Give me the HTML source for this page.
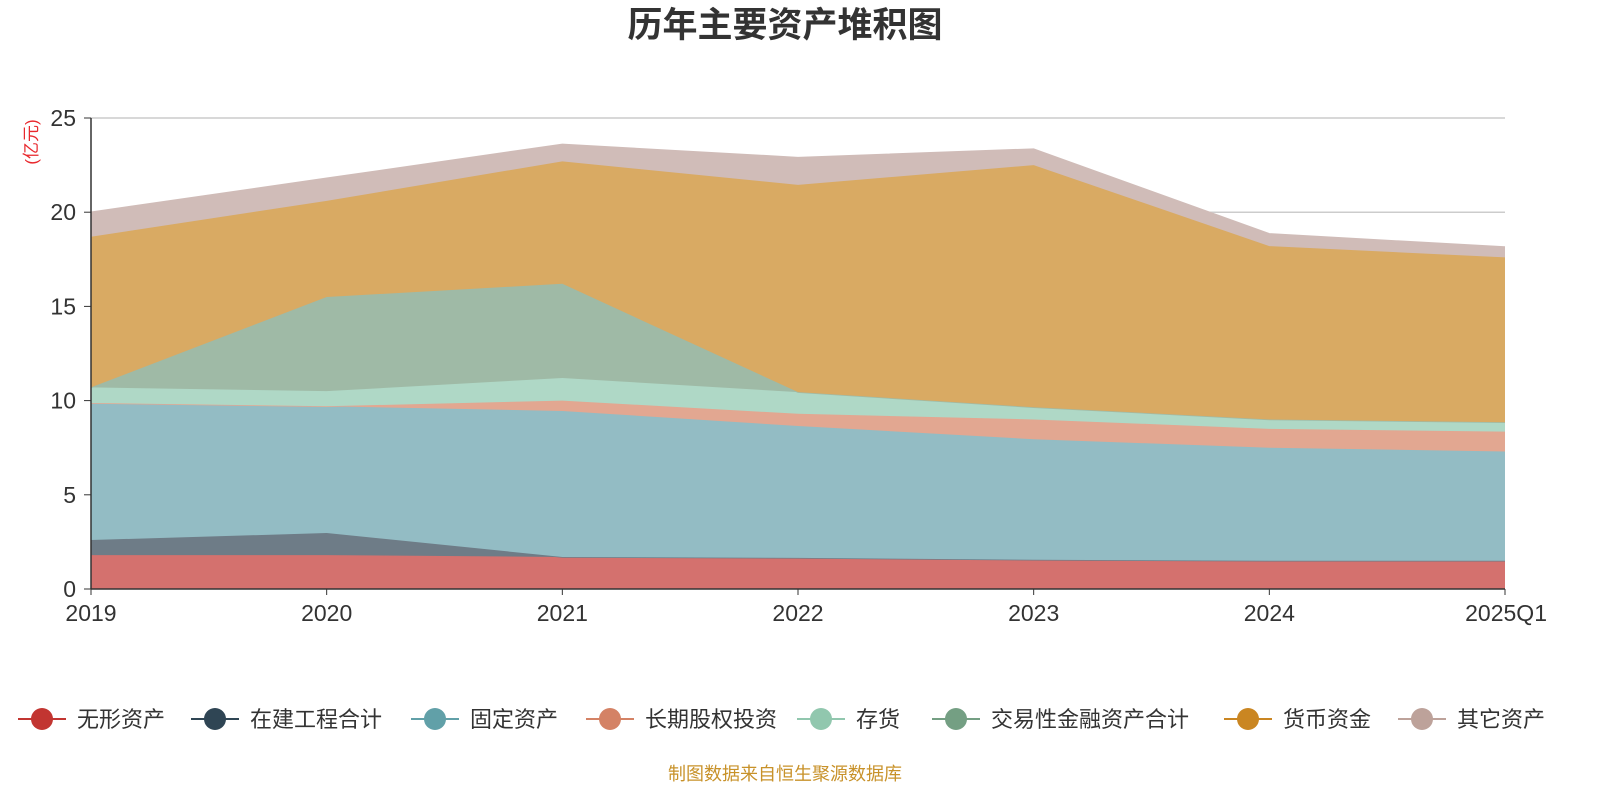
<!DOCTYPE html>
<html><head><meta charset="utf-8"><style>
body{margin:0;background:#fff;width:1600px;height:800px;overflow:hidden;font-family:"Liberation Sans","Noto Sans CJK SC",sans-serif}
</style></head><body>
<svg id="chart" width="1600" height="800" xmlns="http://www.w3.org/2000/svg" font-family="Liberation Sans, Noto Sans CJK SC, sans-serif">
<text x="785" y="37" text-anchor="middle" font-size="35" font-weight="bold" fill="#333">历年主要资产堆积图</text>
<text transform="translate(37,142) rotate(-90)" text-anchor="middle" font-size="17" fill="#e8282d">(亿元)</text>
<g id="grid"></g><g id="areas"></g><g id="axes"></g><g id="legend"></g>
<text x="785" y="780" text-anchor="middle" font-size="18" fill="#c8922a">制图数据来自恒生聚源数据库</text>
</svg>
<script>
const categories=["2019","2020","2021","2022","2023","2024","2025Q1"];
const seriesNames=["无形资产","在建工程合计","固定资产","长期股权投资","存货","交易性金融资产合计","货币资金","其它资产"];
const s0=[1.8,1.8,1.7,1.65,1.55,1.5,1.5];
const s1=[0.8,1.17,0,0,0,0,0];
const s2=[7.27,6.73,7.75,7.0,6.4,6.0,5.8];
const s3=[0,0,0.55,0.65,1.05,1.0,1.05];
const s4=[0.83,0.8,1.2,1.15,0.65,0.5,0.5];
const s5=[0,5.0,5.0,0,0,0,0];
const s6=[8.0,5.1,6.5,11.0,12.85,9.2,8.75];
const s7=[1.3,1.2,0.9,1.45,0.85,0.65,0.55];
const yTicks=[0,5,10,15,20,25];
const series=[s0,s1,s2,s3,s4,s5,s6,s7];
const fills=["#d4716e","#6e7c87","#93bcc4","#e2a791","#afd8c6","#9fbaa6","#d9aa63","#d0bcb8"];
const lineC=["#c23531","#2f4554","#61a0a8","#d48265","#91c7ae","#749f83","#ca8622","#bda29a"];
const X0=91,X1=1505,Y0=589,Y1=118,YMAX=25;
const xs=i=>X0+(X1-X0)*i/(categories.length-1);
const ys=v=>Y0-(Y0-Y1)*v/YMAX;
const NS="http://www.w3.org/2000/svg";
function mk(t,a,p){const e=document.createElementNS(NS,t);for(const k in a)e.setAttribute(k,a[k]);p.appendChild(e);return e;}
const grid=document.getElementById('grid'),areas=document.getElementById('areas'),axes=document.getElementById('axes'),legend=document.getElementById('legend');
yTicks.forEach(t=>{
 if(t>0){const l=mk('line',{x1:X0,x2:X1,y1:ys(t),y2:ys(t),stroke:'#ccc','stroke-width':1.5},grid);
 
 }
 const tx=mk('text',{x:76,y:ys(t)+8,'text-anchor':'end','font-size':23,fill:'#333'},axes);tx.textContent=t;
 
 
 const tk=mk('line',{x1:84,x2:X0,y1:ys(t),y2:ys(t),stroke:'#333'},axes);
 
 
});
let base=categories.map(()=>0);
series.forEach((s,k)=>{
 const top=base.map((b,i)=>b+s[i]);
 let d='M'+categories.map((c,i)=>xs(i)+','+ys(top[i])).join('L');
 for(let i=categories.length-1;i>=0;i--)d+='L'+xs(i)+','+ys(base[i]);
 const p=mk('path',{d:d+'Z',fill:fills[k]},areas);
 
 
 const ln=mk('polyline',{points:categories.map((c,i)=>xs(i)+','+ys(top[i])).join(' '),fill:'none',stroke:fills[k],'stroke-width':1.5},areas);
 
 
 base=top;
});
const ya=mk('line',{x1:X0,x2:X0,y1:Y1,y2:Y0,stroke:'#333','stroke-width':1.5},axes);


const xa=mk('line',{x1:X0,x2:X1,y1:Y0,y2:Y0,stroke:'#333','stroke-width':1.5},axes);


categories.forEach((c,i)=>{
 const tk=mk('line',{x1:xs(i),x2:xs(i),y1:Y0,y2:Y0+6,stroke:'#333'},axes);
 
 
 const t=mk('text',{x:xs(i),y:621,'text-anchor':'middle','font-size':23,fill:'#333'},axes);
 if(i==categories.length-1){t.setAttribute('text-anchor','end');t.setAttribute('x',1547);}
 t.textContent=c;
 
 
});
const lx=[18,191,411,586,797,932,1224,1398];
seriesNames.forEach((n,k)=>{
 const g=mk('g',{},legend);
 
 
 mk('line',{x1:lx[k],x2:lx[k]+48,y1:719,y2:719,stroke:lineC[k],'stroke-width':2},g);
 mk('circle',{cx:lx[k]+24,cy:719,r:11,fill:lineC[k]},g);
 const t=mk('text',{x:lx[k]+59,y:727,'font-size':22,fill:'#333'},g);t.textContent=n;
});
</script>
</body></html>
